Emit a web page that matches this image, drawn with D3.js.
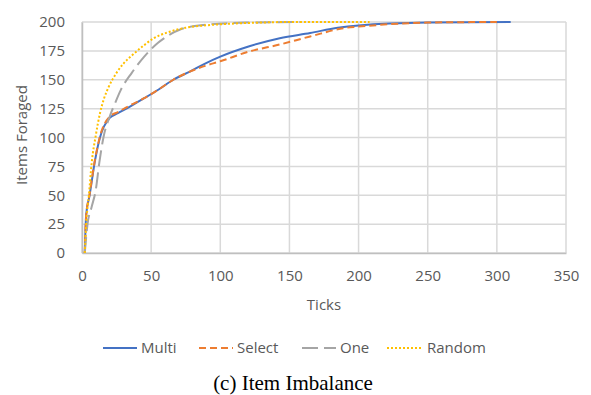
<!DOCTYPE html>
<html>
<head>
<meta charset="utf-8">
<script src="https://cdn.jsdelivr.net/npm/d3@7"></script>
<style>
  body { margin: 0; background: #fff; }
  text { font-family: "Open Sans", sans-serif; fill: #595959; }
</style>
</head>
<body>
<div id="chart"></div>
<script>
// values
var multiX  = [2, 3, 5.5, 9.4, 13, 20, 26, 35, 45, 56, 66, 78, 89, 100, 121, 143, 165, 185, 200, 250, 310];
var multiY  = [0, 33, 50, 80, 100, 117, 121, 127, 134, 142, 150, 157, 164, 170, 179, 186, 190.5, 195, 197, 199.5, 200];
var selectX = [2, 3, 5.5, 9.4, 13, 20, 26, 35, 45, 56, 66, 78, 89, 100, 121, 143, 165, 191, 200, 250, 300];
var selectY = [0, 32, 51, 81, 101, 118, 122, 128, 134, 142, 150, 157, 162, 166, 174.5, 180.5, 187.5, 195, 196, 199.5, 200];
var oneX    = [2, 4, 7, 10, 12.5, 15.5, 20, 24, 28, 36, 45, 55, 62, 71, 92, 120, 158];
var oneY    = [0, 25, 40, 55, 78, 100, 118, 130, 141, 156, 170, 182, 188, 193.5, 198, 199.5, 200];
var randX   = [2, 3, 5, 7, 10, 13, 16, 19, 25, 30, 37, 45, 52, 62, 75, 85, 100, 129, 150, 208];
var randY   = [0, 25, 50, 78, 102, 121, 134, 143, 156, 164, 172, 180, 186, 191, 195, 196.6, 198, 199.5, 200, 200];
var seriesNames = ["Multi", "Select", "One", "Random"];
var xTicks = [0, 50, 100, 150, 200, 250, 300, 350];
var yTicks = [0, 25, 50, 75, 100, 125, 150, 175, 200];

var width = 591, height = 395;
var margin = { top: 22, right: 25, bottom: 142, left: 82 };

var series = [
  { name: seriesNames[0], xs: multiX, ys: multiY, color: "#4472C4", dash: null, w: 2 },
  { name: seriesNames[1], xs: selectX, ys: selectY, color: "#ED7D31", dash: "7,4", w: 2 },
  { name: seriesNames[2], xs: oneX, ys: oneY, color: "#A5A5A5", dash: "16,6", w: 2 },
  { name: seriesNames[3], xs: randX, ys: randY, color: "#FFC000", dash: "2,2", w: 2 }
];

var xScale = d3.scaleLinear().domain([0, 350]).range([margin.left, width - margin.right]);
var yScale = d3.scaleLinear().domain([0, 200]).range([height - margin.bottom, margin.top]);

var svg = d3.select("#chart").append("svg")
  .attr("width", width)
  .attr("height", height);

svg.append("rect").attr("width", width).attr("height", height).attr("fill", "#fff");

/* grid */
svg.append("g").selectAll("line")
  .data(xTicks)
  .join("line")
  .attr("x1", d => xScale(d)).attr("x2", d => xScale(d))
  .attr("y1", yScale(200)).attr("y2", yScale(0))
  .attr("stroke", "#d9d9d9").attr("stroke-width", 1.5);

svg.append("g").selectAll("line")
  .data(yTicks)
  .join("line")
  .attr("x1", xScale(0)).attr("x2", xScale(350))
  .attr("y1", d => yScale(d)).attr("y2", d => yScale(d))
  .attr("stroke", "#d9d9d9").attr("stroke-width", 1.5);

/* axes */
var xAxis = d3.axisBottom(xScale).tickValues(xTicks).tickSize(0).tickPadding(17);
var yAxis = d3.axisLeft(yScale).tickValues(yTicks).tickSize(0).tickPadding(17);

var gx = svg.append("g").attr("transform", `translate(0,${yScale(0)})`).call(xAxis);
var gy = svg.append("g").attr("transform", `translate(${xScale(0)},0)`).call(yAxis);
[gx, gy].forEach(g => {
  g.select(".domain").attr("stroke", "#bfbfbf").attr("stroke-width", 1.5);
  g.selectAll("text").attr("font-size", "15px").attr("fill", "#595959")
    .style("font-family", "'Open Sans', sans-serif");
});

/* lines */
var line = d3.line()
  .x(d => xScale(d[0]))
  .y(d => yScale(d[1]))
  .curve(d3.curveMonotoneX);

svg.append("g").selectAll("path")
  .data(series)
  .join("path")
  .attr("d", s => line(s.xs.map((x, i) => [x, s.ys[i]])))
  .attr("fill", "none")
  .attr("stroke", s => s.color)
  .attr("stroke-width", s => s.w)
  .attr("stroke-dasharray", s => s.dash);

/* axis titles */
svg.append("text")
  .attr("x", (xScale(0) + xScale(350)) / 2)
  .attr("y", 310)
  .attr("text-anchor", "middle")
  .attr("font-size", "15px")
  .text("Ticks");

svg.append("text")
  .attr("transform", "rotate(-90)")
  .attr("x", -135)
  .attr("y", 27)
  .attr("text-anchor", "middle")
  .attr("font-size", "15px")
  .text("Items Foraged");

/* legend */
var legendX = [103, 199, 302, 387];
var legend = svg.append("g");
series.forEach((s, i) => {
  legend.append("line")
    .attr("x1", legendX[i]).attr("x2", legendX[i] + 34)
    .attr("y1", 348).attr("y2", 348)
    .attr("stroke", s.color)
    .attr("stroke-width", s.w)
    .attr("stroke-dasharray", s.dash);
  legend.append("text")
    .attr("x", legendX[i] + 38 + (i == 3 ? 2 : 0))
    .attr("y", 353)
    .attr("font-size", "15px")
    .text(s.name);
});

/* caption */
svg.append("text")
  .attr("x", 293)
  .attr("y", 390)
  .attr("text-anchor", "middle")
  .attr("font-size", "21px")
  .style("font-family", "'Liberation Serif', 'Times New Roman', serif")
  .style("fill", "#000")
  .text("(c) Item Imbalance");
</script>
</body>
</html>
